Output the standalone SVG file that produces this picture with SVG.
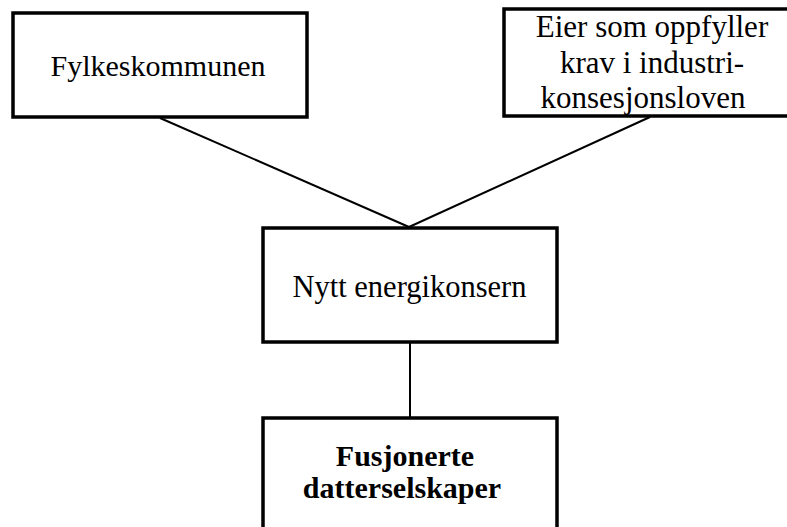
<svg xmlns="http://www.w3.org/2000/svg" width="787" height="527" viewBox="0 0 787 527">
<style>
.box{fill:#fff;stroke:#000;stroke-width:3.5}
.c{stroke:#000;stroke-width:2;fill:none}
</style>
<rect width="787" height="527" fill="#fff"/>
<g id="connectors">
<line class="c" x1="160" y1="118" x2="409" y2="227"/>
<line class="c" x1="650" y1="117" x2="409" y2="227"/>
<line class="c" x1="410" y1="342" x2="410" y2="418"/>
</g>
<g font-family="Liberation Serif, Times New Roman, serif" font-size="30" fill="#000" text-anchor="middle">
<g id="fylkeskommunen">
<rect class="box" x="13" y="13" width="294" height="104"/>
<text x="158" y="76">Fylkeskommunen</text>
</g>
<g id="eier">
<rect class="box" x="504" y="9" width="290" height="107"/>
<text x="652" y="37" font-size="31">Eier som oppfyller</text>
<text x="652" y="73" font-size="31">krav i industri-</text>
<text x="643" y="108" font-size="31">konsesjonsloven</text>
</g>
<g id="nytt">
<rect class="box" x="263" y="228" width="294" height="114"/>
<text x="409.5" y="297" font-size="30.5">Nytt energikonsern</text>
</g>
<g id="fusjonerte">
<rect class="box" x="263" y="418" width="294" height="120"/>
<text x="405" y="466" font-weight="bold">Fusjonerte</text>
<text x="402" y="498" font-weight="bold">datterselskaper</text>
</g>
</g>
</svg>
